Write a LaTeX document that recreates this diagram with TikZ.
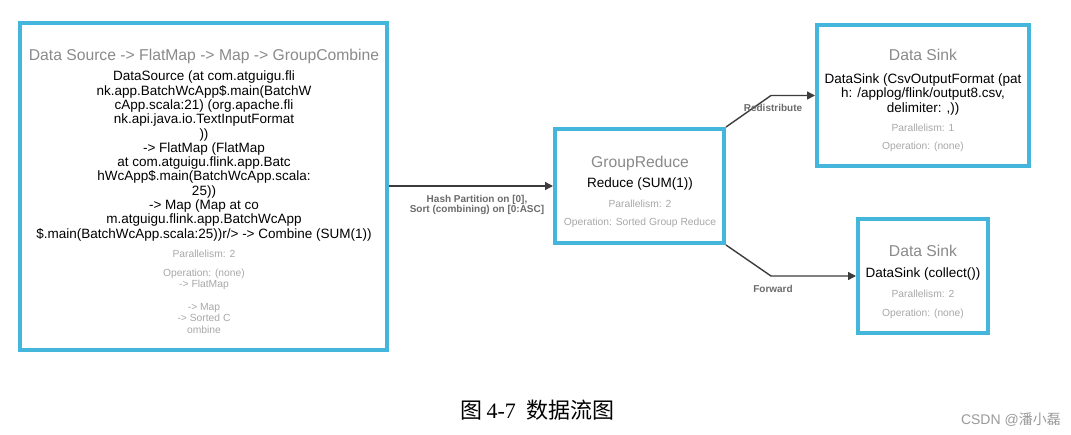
\documentclass[tikz,border=0pt]{standalone}
\usepackage{fontspec}
\setmainfont{Liberation Sans}
\newfontfamily\cjk{Noto Sans CJK SC}
\newfontfamily\timesf{Liberation Serif}
\usetikzlibrary{arrows.meta}
\definecolor{boxblue}{HTML}{45B6DB}
\definecolor{titlegray}{HTML}{8A8A8A}
\definecolor{metagray}{HTML}{A8A8A8}
\definecolor{labelgray}{HTML}{6B6B6B}
\definecolor{edgegray}{HTML}{3C3C3C}
\definecolor{wmgray}{HTML}{9A9A9A}
\begin{document}
\begin{tikzpicture}[x=1pt,y=-1pt,
  box/.style={draw=boxblue,line width=4pt,inner sep=0pt,fill=white},
  ttl/.style={anchor=base,text=titlegray,font=\fontsize{15.7}{17}\selectfont,inner sep=0pt},
  body/.style={anchor=base,align=center,text=black,font=\fontsize{13.5}{14.3}\selectfont,inner sep=0pt},
  meta/.style={anchor=base,align=center,text=metagray,font=\fontsize{10.3}{11.3}\selectfont,inner sep=0pt},
  elabel/.style={anchor=base,align=center,text=labelgray,font=\bfseries\fontsize{10}{10.3}\selectfont,inner sep=0pt},
  flow/.style={draw=edgegray,line width=1.4pt,-{Triangle[length=8pt,width=8pt]}}]
\useasboundingbox (0,0) rectangle (1071,434);
\fill[white] (0,0) rectangle (1071,434);

% boxes
\node[box,minimum width=367pt,minimum height=327pt] (src) at (203.5,186.5) {};
\node[box,minimum width=169pt,minimum height=114pt] (gr) at (639.5,186) {};
\node[box,minimum width=212pt,minimum height=141pt] (sk1) at (923,95.5) {};
\node[box,minimum width=130pt,minimum height=114pt] (sk2) at (923,276) {};

% source box text (multi-line nodes: base = baseline of last line)
\node[ttl] (srct) at (204,60.5) {Data Source -> FlatMap -> Map -> GroupCombine};
\node[body] (srcb) at (204,238.1) {DataSource (at com.atguigu.fli\\
nk.app.BatchWcApp\$.main(BatchW\\
cApp.scala:21) (org.apache.fli\\
nk.api.java.io.TextInputFormat\\
))\\
-> FlatMap (FlatMap\\
at com.atguigu.flink.app.Batc\\
hWcApp\$.main(BatchWcApp.scala:\\
25))\\
-> Map (Map at co\\
m.atguigu.flink.app.BatchWcApp\\
\$.main(BatchWcApp.scala:25))r/> -> Combine (SUM(1))};
\node[meta] (srcp) at (204,257.7) {Parallelism: 2};
\node[meta] (srco) at (204,333) {Operation: (none)\\ -> FlatMap\\ \strut\\ -> Map\\ -> Sorted C\\ ombine};

% group reduce text
\node[ttl] (grt) at (640,167.7) {GroupReduce};
\node[body] (grb) at (640,187.8) {Reduce (SUM(1))};
\node[meta] (grp) at (640,207.7) {Parallelism: 2};
\node[meta] (gro) at (640,225.7) {Operation: Sorted Group Reduce};

% sink 1 text
\node[ttl] (s1t) at (923,60.7) {Data Sink};
\node[body] (s1b) at (923,112) {DataSink (CsvOutputFormat (pat\\ h: /applog/flink/output8.csv,\\ delimiter: ,))};
\node[meta] (s1p) at (923,131.7) {Parallelism: 1};
\node[meta] (s1o) at (923,149.7) {Operation: (none)};

% sink 2 text
\node[ttl] (s2t) at (923,256.7) {Data Sink};
\node[body] (s2b) at (923,277.8) {DataSink (collect())};
\node[meta] (s2p) at (923,297.7) {Parallelism: 2};
\node[meta] (s2o) at (923,316.7) {Operation: (none)};

% connectors
\coordinate (b1) at (771,95.5);
\coordinate (b2) at (771,276);
\draw[flow] (gr.west -| src.east) -- (gr.west);
\draw[flow] (gr.north east) -- (b1) -- (sk1.west);
\draw[flow] (gr.south east) -- (b2) -- (sk2.west);

% connector labels
\node[elabel] (l1) at (477,212.8) {Hash Partition on [0],\\ Sort (combining) on [0:ASC]};
\node[elabel] (l2) at (773,111.6) {Redistribute};
\node[elabel] (l3) at (773,292.6) {Forward};

% caption and watermark
\node[anchor=base west,inner sep=0pt,font=\fontsize{22}{22}\selectfont] (cap) at (460,418) {\cjk 图\hspace{0.2em}\timesf 4-7\hspace{0.5em}\cjk 数据流图};
\node[anchor=base east,inner sep=0pt,text=wmgray,font=\fontsize{14}{14}\selectfont] (wm) at (1061,424) {CSDN @{\cjk 潘小磊}};
\end{tikzpicture}
\end{document}
